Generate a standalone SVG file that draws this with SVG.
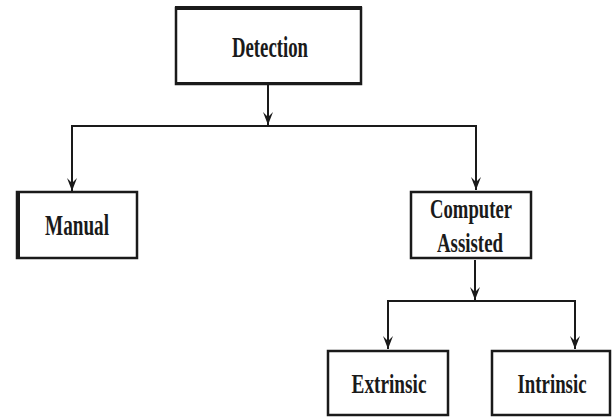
<svg xmlns="http://www.w3.org/2000/svg" width="613" height="418" viewBox="0 0 613 418">
<style>
.box{fill:#fff;stroke:#1a1a1a;stroke-width:2.5}
.edge{fill:#1a1a1a}
.lbl{font-family:"Liberation Serif","Times New Roman",serif;font-weight:bold;font-size:29px;fill:#1a1a1a;text-anchor:middle}
.sm{font-size:27px}
.conn{fill:none;stroke:#1a1a1a;stroke-width:2}
</style>
<defs>
<marker id="ah" viewBox="0 0 14 10" refX="13" refY="5" markerWidth="14" markerHeight="10" markerUnits="userSpaceOnUse" orient="auto">
<path d="M0,0 L13,5 L0,10 L5,5 Z" fill="#1a1a1a"/>
</marker>
</defs>
<g id="connectors">
<path class="conn" d="M268,85 V125" marker-end="url(#ah)"/>
<path class="conn" d="M72,178 V126 H476 V178"/>
<path class="conn" d="M72,176 V191" marker-end="url(#ah)"/>
<path class="conn" d="M476,176 V190" marker-end="url(#ah)"/>
<path class="conn" d="M475,260 V300" marker-end="url(#ah)"/>
<path class="conn" d="M388,337 V301 H575 V337"/>
<path class="conn" d="M388,335 V349" marker-end="url(#ah)"/>
<path class="conn" d="M575,335 V349" marker-end="url(#ah)"/>
</g>
<g id="detection">
<rect class="box" x="176" y="8" width="185" height="76"/>
<rect class="edge" x="175" y="6" width="187" height="4"/>
<rect class="edge" x="175" y="82" width="187" height="3"/>
<text class="lbl" transform="translate(270,57) scale(0.7,1)" x="0" y="0" textLength="108.6" lengthAdjust="spacingAndGlyphs">Detection</text>
</g>
<g id="manual">
<rect class="box" x="17" y="192" width="120" height="66"/>
<rect class="edge" x="16" y="191" width="4" height="68"/>
<text class="lbl" transform="translate(77,235) scale(0.7,1)" x="0" y="0" textLength="91.4" lengthAdjust="spacingAndGlyphs">Manual</text>
</g>
<g id="computer-assisted">
<rect class="box" x="411" y="192" width="120" height="66"/>
<text class="lbl sm" transform="translate(471,218) scale(0.7,1)" x="0" y="0" textLength="117" lengthAdjust="spacingAndGlyphs">Computer</text>
<text class="lbl sm" transform="translate(470,252) scale(0.7,1)" x="0" y="0" textLength="94.3" lengthAdjust="spacingAndGlyphs">Assisted</text>
</g>
<g id="extrinsic">
<rect class="box" x="328" y="351" width="120" height="64"/>
<text class="lbl sm" transform="translate(389,393) scale(0.7,1)" x="0" y="0" textLength="107" lengthAdjust="spacingAndGlyphs">Extrinsic</text>
</g>
<g id="intrinsic">
<rect class="box" x="492" y="351" width="118" height="64"/>
<text class="lbl sm" transform="translate(552,393) scale(0.7,1)" x="0" y="0" textLength="98.6" lengthAdjust="spacingAndGlyphs">Intrinsic</text>
</g>
</svg>
